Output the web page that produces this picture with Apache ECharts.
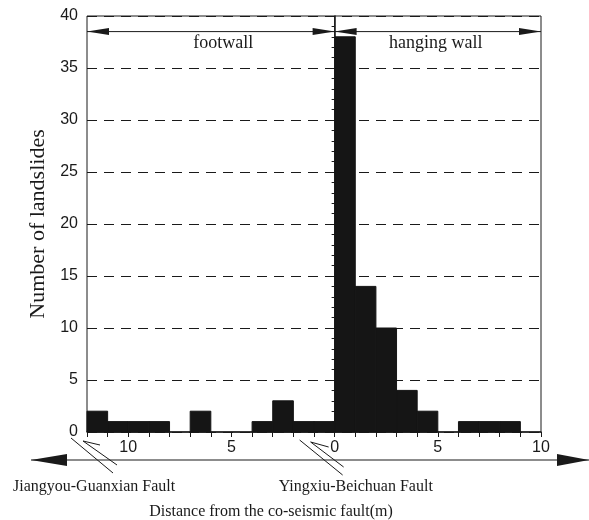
<!DOCTYPE html>
<html>
<head>
<meta charset="utf-8">
<script src="https://cdn.jsdelivr.net/npm/echarts@6.0.0/dist/echarts.min.js"></script>
<style>
  html, body { margin: 0; padding: 0; background: #fff; }
  #main { width: 589px; height: 520px; }
</style>
</head>
<body>
<div id="main"></div>
<script>
  // bins are 1 m wide; negative = footwall side, positive = hanging wall side
  const binStarts = [-12, -11, -10, -9, -8, -7, -6, -5, -4, -3, -2, -1, 0, 1, 2, 3, 4, 5, 6, 7, 8, 9];
  const counts    = [2, 1, 1, 1, 0, 2, 0, 0, 1, 3, 1, 1, 38, 14, 10, 4, 2, 0, 1, 1, 1, 0];
  const yTicks = [0, 5, 10, 15, 20, 25, 30, 35, 40];
  const xRange = [-12, 10];

  const ink = '#1a1a1a';
  const serif = '"Liberation Serif", "Times New Roman", serif';
  const sans = '"Liberation Sans", Arial, sans-serif';

  const chart = echarts.init(document.getElementById('main'), null, {renderer: 'canvas'});

  const option = {
    backgroundColor: '#fff',
    animation: false,
    grid: {
      left: 87, right: 48, top: 16, bottom: 88,
      show: true, borderColor: ink, borderWidth: 1, backgroundColor: 'transparent'
    },
    xAxis: {
      type: 'value',
      min: xRange[0], max: xRange[1], interval: 1,
      axisLine: {show: true, lineStyle: {color: ink, width: 1.5}},
      axisTick: {show: true, length: 5, lineStyle: {color: ink}},
      axisLabel: {
        color: ink, fontFamily: sans, fontSize: 16, margin: 8,
        formatter: v => (v % 5 === 0 && v >= -10) ? String(Math.abs(v)) : ''
      },
      splitLine: {show: false}
    },
    yAxis: {
      type: 'value',
      min: yTicks[0], max: yTicks[yTicks.length - 1], interval: 5,
      name: 'Number of landslides',
      nameLocation: 'middle',
      nameGap: 38,
      nameTextStyle: {color: ink, fontFamily: serif, fontSize: 22},
      axisLine: {show: true, lineStyle: {color: ink, width: 1.5}},
      axisTick: {show: true, length: 6, lineStyle: {color: ink}},
      minorTick: {show: true, splitNumber: 5, length: 3, lineStyle: {color: ink}},
      axisLabel: {color: ink, fontFamily: sans, fontSize: 16, margin: 9},
      splitLine: {show: true, lineStyle: {color: ink, width: 1, type: [10, 7]}}
    },
    series: [{
      type: 'custom',
      z: 5,
      renderItem: (params, api) => {
        const x0 = api.value(0), h = api.value(1);
        if (!h) return null;
        const p0 = api.coord([x0, h]);
        const p1 = api.coord([x0 + 1, 0]);
        return {
          type: 'rect',
          shape: {x: p0[0], y: p0[1], width: p1[0] - p0[0], height: p1[1] - p0[1]},
          style: {fill: '#151515', stroke: '#151515', lineWidth: 1}
        };
      },
      encode: {x: 0, y: 1},
      data: binStarts.map((b, i) => [b, counts[i]])
    }]
  };

  chart.setOption(option);

  // annotation layer, anchored to the axis pixels
  const px = (x, y) => chart.convertToPixel({gridIndex: 0}, [x, y]);
  const line = (x1, y1, x2, y2, w) => ({
    type: 'line', z: 50,
    shape: {x1, y1, x2, y2},
    style: {stroke: ink, lineWidth: w || 1}
  });
  const head = (tipX, y, dir, len, half) => ({
    type: 'polygon', z: 50,
    shape: {points: [[tipX, y], [tipX - dir * len, y - half], [tipX - dir * len, y + half]]},
    style: {fill: ink}
  });
  const text = (x, y, str, size, align) => ({
    type: 'text', z: 50, x, y,
    style: {text: str, fill: ink, font: size + 'px ' + serif, align: align || 'center', verticalAlign: 'middle'}
  });

  const L = px(xRange[0], 0), Z = px(0, 0), R = px(xRange[1], 0);
  const plotTop = px(0, 40)[1];
  const barTop = px(0, 38)[1];
  const hy = px(0, 38.5)[1];

  const g = [];
  // fault trace at 0
  g.push(line(Z[0], plotTop, Z[0], barTop, 1));
  // footwall / hanging wall arrows
  g.push(line(L[0], hy, R[0], hy, 1));
  g.push(head(L[0], hy, -1, 22, 3.5));
  g.push(head(Z[0], hy, 1, 22, 3.5));
  g.push(head(Z[0], hy, -1, 22, 3.5));
  g.push(head(R[0], hy, 1, 22, 3.5));
  g.push(text(px(-5.4, 0)[0], hy + 12, 'footwall', 18));
  g.push(text(px(4.9, 0)[0], hy + 12, 'hanging wall', 18));

  // fault marks below the axis
  const ox = L[0], oy = L[1];
  g.push(line(ox - 16, oy + 6, ox + 26, oy + 41));
  g.push({type: 'polyline', z: 50, shape: {points: [[ox + 13, oy + 13], [ox - 4, oy + 9], [ox + 30, oy + 33]]},
          style: {stroke: ink, fill: null, lineWidth: 1}});
  const zx = Z[0], zy = Z[1];
  g.push(line(zx - 35, zy + 8, zx + 8, zy + 43));
  g.push({type: 'polyline', z: 50, shape: {points: [[zx - 6, zy + 15], [zx - 24, zy + 10], [zx + 9, zy + 35]]},
          style: {stroke: ink, fill: null, lineWidth: 1}});

  // long distance arrow
  const ay = zy + 28;
  g.push(line(31, ay, 589, ay, 1.2));
  g.push(head(31, ay, -1, 36, 6));
  g.push(head(589, ay, 1, 32, 6));

  g.push(text(ox - 74, zy + 55, 'Jiangyou-Guanxian Fault', 16, 'left'));
  g.push(text(zx - 56, zy + 55, 'Yingxiu-Beichuan Fault', 16, 'left'));
  g.push(text(271, zy + 80, 'Distance from the co-seismic fault(m)', 16));

  chart.setOption({graphic: g});
</script>
</body>
</html>
